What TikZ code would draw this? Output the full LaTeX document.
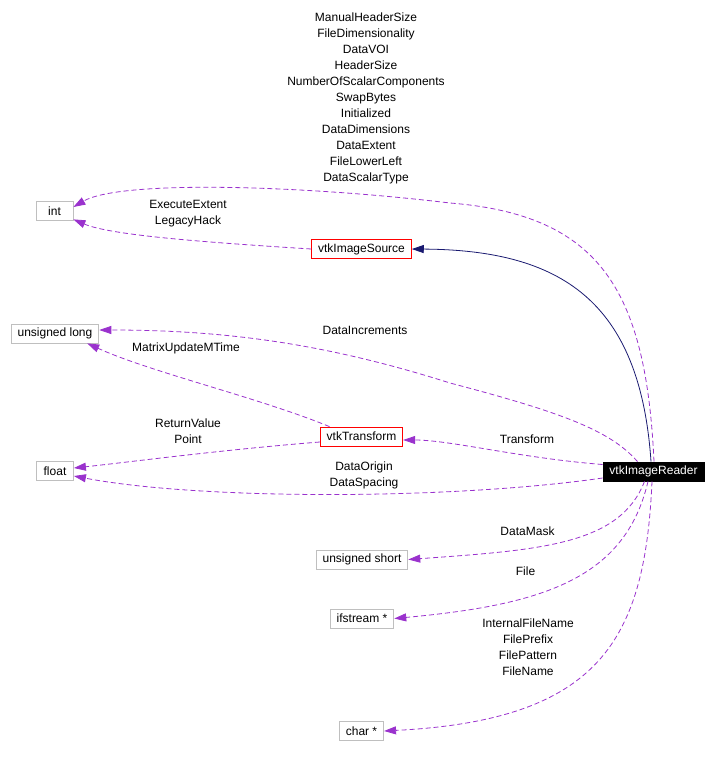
\documentclass[tikz,border=0pt]{standalone}
\usepackage{fontspec}
\setmainfont{Liberation Sans}
\usepackage{tikz}
\usetikzlibrary{arrows.meta}
\definecolor{depviolet}{HTML}{9A32CD}
\definecolor{inhnavy}{HTML}{191970}
\definecolor{boxgray}{HTML}{BFBFBF}

\begin{document}
\begin{tikzpicture}[
  x=1pt, y=-1pt,
  cls/.style={draw=boxgray, fill=white, line width=0.8pt, font=\fontsize{12}{16}\selectfont, minimum width=37pt, minimum height=19pt, inner xsep=6.5pt, inner ysep=0pt},
  ext/.style={cls, draw=red},
  cur/.style={cls, draw=black, fill=black, text=white},
  lbl/.style={font=\fontsize{12}{16}\selectfont, align=center, inner sep=0pt},
  dep/.style={-{Triangle[length=12pt,width=8pt]}, draw=depviolet, line width=0.8pt, dash pattern=on 5pt off 3pt},
  inh/.style={-{Triangle[length=12pt,width=8pt]}, draw=inhnavy, line width=0.8pt}
]
\useasboundingbox (0,0) rectangle (717,757);

\node[cls] (int) at (54.5,211) {int};
\node[ext] (src) at (361.5,249) {vtkImageSource};
\node[cls] (ulong) at (55,333.5) {unsigned long};
\node[ext] (xform) at (361.5,436.5) {vtkTransform};
\node[cls] (flt) at (55,471) {float};
\node[cur] (reader) at (653.5,471.5) {vtkImageReader};
\node[cls] (ushort) at (362,559.5) {unsigned short};
\node[cls] (ifs) at (362,618.5) {ifstream *};
\node[cls] (chr) at (361.5,731) {char *};

\node[lbl] (intl) at (366,98) {ManualHeaderSize\\FileDimensionality\\DataVOI\\HeaderSize\\NumberOfScalarComponents\\SwapBytes\\Initialized\\DataDimensions\\DataExtent\\FileLowerLeft\\DataScalarType};
\node[lbl] (srcl) at (188,214) {ExecuteExtent\\LegacyHack};
\node[lbl] (incl) at (365,330) {DataIncrements};
\node[lbl] (mtimel) at (186,348) {MatrixUpdateMTime};
\node[lbl] (pointl) at (188,431.5) {ReturnValue\\Point};
\node[lbl] (xforml) at (527,439) {Transform};
\node[lbl] (spacel) at (364,475) {DataOrigin\\DataSpacing};
\node[lbl] (maskl) at (527.5,531) {DataMask};
\node[lbl] (filel) at (525.5,571) {File};
\node[lbl] (namel) at (528,647.5) {InternalFileName\\FilePrefix\\FilePattern\\FileName};

\draw[inh] ([xshift=-2.5pt]reader.north) .. controls (640,300) and (560,250) .. (src.east);
\draw[dep] ([xshift=0.5pt]reader.north) .. controls (646,290) and (600,215) .. (450,203) .. controls (300,185) and (120,180) .. ([yshift=4pt]int.east);
\draw[dep] (src.west) .. controls (200,242) and (110,235) .. ([yshift=1.5pt]int.south east);
\draw[dep] ([xshift=-16pt]reader.north) .. controls (610,430) and (560,412) .. (450,383) .. controls (330,345) and (230,330) .. ([yshift=3.5pt]ulong.east);
\draw[dep] ([xshift=-32pt]xform.north) .. controls (260,398) and (150,372) .. ([xshift=-12pt]ulong.south east);
\draw[dep] ([yshift=7pt]reader.west) .. controls (520,458) and (450,440) .. ([yshift=-3.5pt]xform.east);
\draw[dep] ([yshift=-5.5pt]xform.west) .. controls (220,450) and (130,462) .. ([yshift=3pt]flt.east);
\draw[dep] ([yshift=-6.5pt]reader.west) .. controls (450,500) and (200,500) .. ([yshift=-5pt]flt.east);
\draw[dep] ([xshift=-9pt]reader.south) .. controls (620,545) and (540,550) .. (ushort.east);
\draw[dep] ([xshift=-5.5pt]reader.south) .. controls (625,580) and (540,605) .. (ifs.east);
\draw[dep] ([xshift=-1.5pt]reader.south) .. controls (645,640) and (600,720) .. (chr.east);
\end{tikzpicture}
\end{document}
